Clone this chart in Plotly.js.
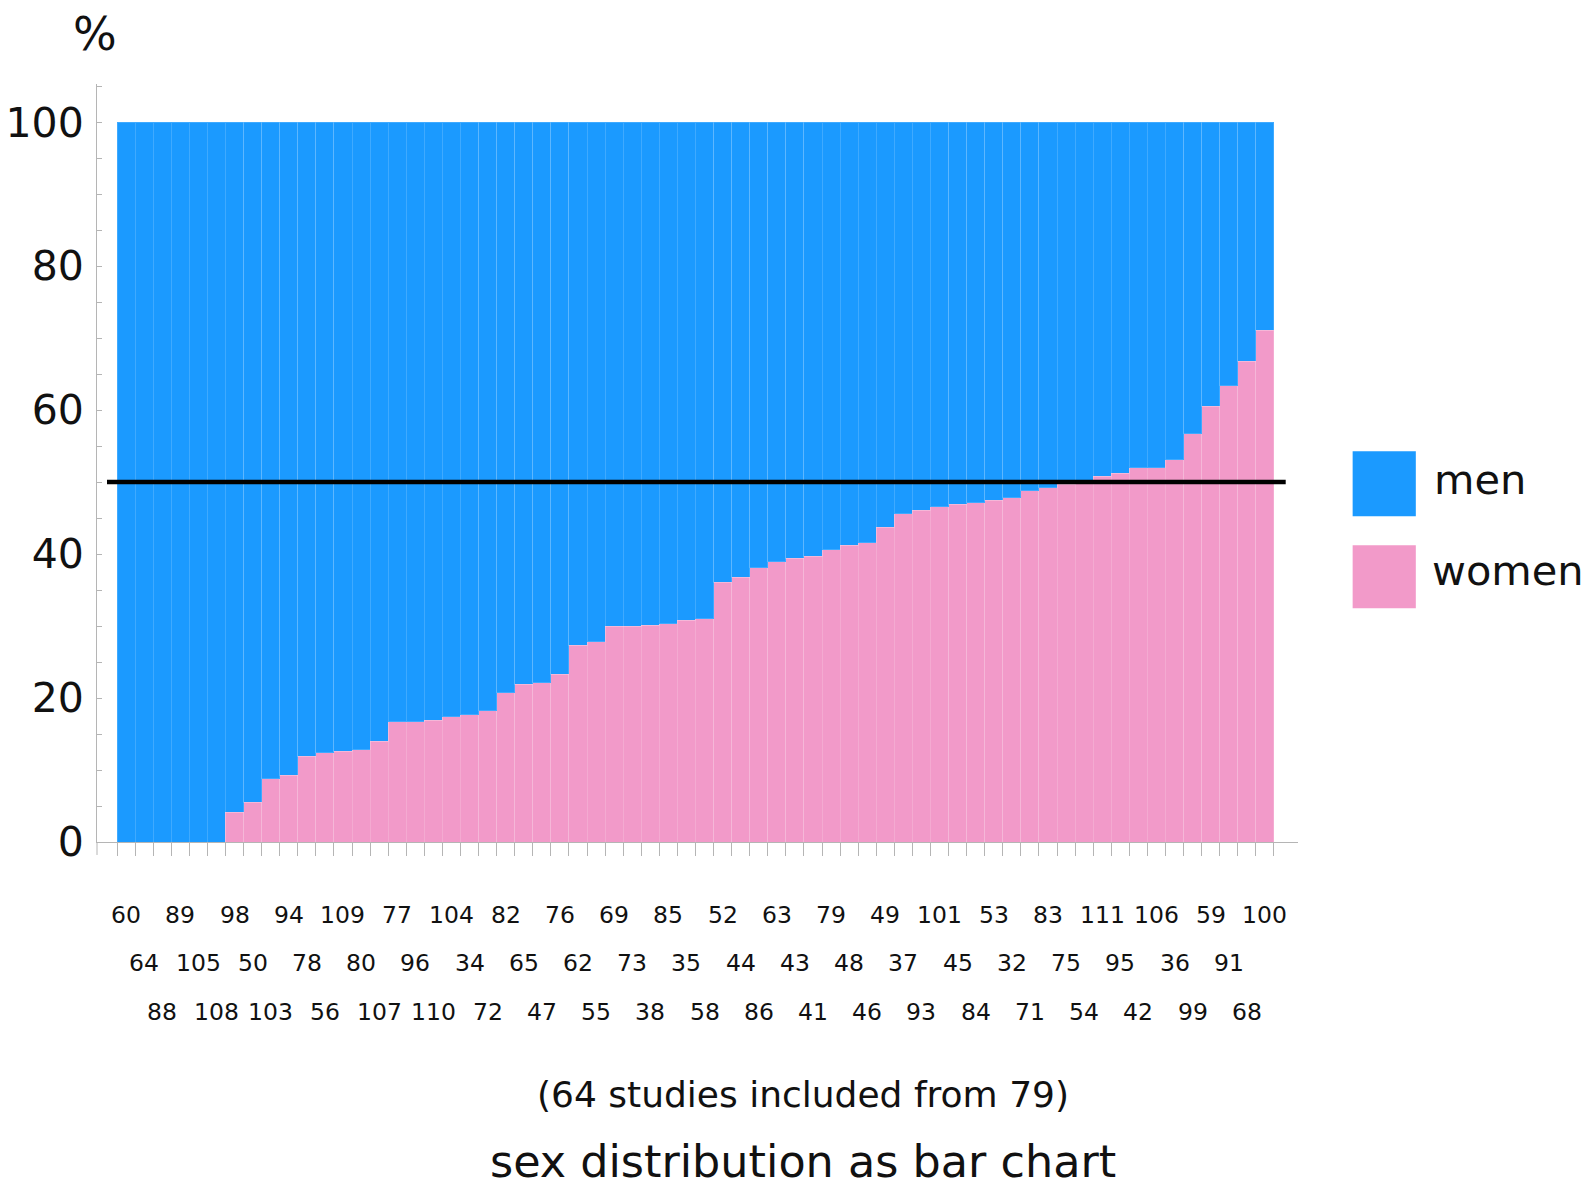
<!DOCTYPE html>
<html>
<head>
<meta charset="utf-8">
<script src="https://cdn.plot.ly/plotly-3.0.1.min.js"></script>
<style>html,body{margin:0;padding:0;background:#fff;}#chart{width:1595px;height:1186px;}</style>
</head>
<body>
<div id="chart"></div>
<script>
// Study identifiers, in bar order (left to right)
const studies = [60,64,88,89,105,108,98,50,103,94,78,56,109,80,107,77,96,110,104,34,72,82,65,47,76,62,55,69,73,38,85,35,58,52,44,86,63,43,41,79,48,46,49,37,93,101,45,84,53,32,71,83,75,54,111,95,42,106,36,99,59,91,68,100];
// Percentage of women per study
const women = [0,0,0,0,0,0,4.1,5.5,8.8,9.3,11.9,12.4,12.6,12.8,14.0,16.7,16.7,16.9,17.4,17.7,18.2,20.7,21.9,22.1,23.3,27.3,27.8,30.0,30.0,30.1,30.3,30.8,31.0,36.1,36.8,38.1,38.9,39.4,39.7,40.6,41.2,41.6,43.7,45.6,46.1,46.6,46.9,47.1,47.5,47.8,48.8,49.2,49.7,50.1,50.8,51.2,52.0,52.0,53.1,56.7,60.5,63.4,66.8,71.1];
// Percentage of men per study
const men = [100,100,100,100,100,100,95.9,94.5,91.2,90.7,88.1,87.6,87.4,87.2,86.0,83.3,83.3,83.1,82.6,82.3,81.8,79.3,78.1,77.9,76.7,72.7,72.2,70.0,70.0,69.9,69.7,69.2,69.0,63.9,63.2,61.9,61.1,60.6,60.3,59.4,58.8,58.4,56.3,54.4,53.9,53.4,53.1,52.9,52.5,52.2,51.2,50.8,50.3,49.9,49.2,48.8,48.0,48.0,46.9,43.3,39.5,36.6,33.2,28.9];
const yTickVals = [0,5,10,15,20,25,30,35,40,45,50,55,60,65,70,75,80,85,90,95,100,105];
const yTickText = ["0","","","","20","","","","40","","","","60","","","","80","","","","100",""];
const seriesNames = ["men","women"];
const refLine = 50;
const subtitle = "(64 studies included from 79)";
const titleText = "sex distribution as bar chart";

const FONT = "DejaVu Sans, Verdana, sans-serif";
const BLUE = "#1b9aff";
const PINK = "#f29ac9";

const idx = studies.map((_, i) => i);
const boundaries = [];
for (let i = 0; i <= studies.length; i++) boundaries.push(i - 0.5);

const traces = [
  {type: "bar", x: idx, y: women, name: seriesNames[1], marker: {color: PINK, line: {color: "rgba(255,255,255,0.16)", width: 1}}, hoverinfo: "skip"},
  {type: "bar", x: idx, y: men, name: seriesNames[0], marker: {color: BLUE, line: {color: "rgba(255,255,255,0.16)", width: 1}}, hoverinfo: "skip"}
];

const rowY = [-0.0957, -0.1602, -0.2247];
const annotations = studies.map((s, i) => ({
  x: i, xref: "x", y: rowY[i % 3], yref: "paper",
  text: String(s), showarrow: false, xanchor: "center", yanchor: "middle",
  font: {family: FONT, size: 23.5, color: "#111"}
}));
annotations.push({x: -0.002, xref: "paper", y: 1.0658, yref: "paper", text: "%", showarrow: false,
  xanchor: "center", yanchor: "middle", font: {family: FONT, size: 46, color: "#111"}});
annotations.push({x: 0.588, xref: "paper", y: -0.3336, yref: "paper", text: subtitle, showarrow: false,
  xanchor: "center", yanchor: "middle", font: {family: FONT, size: 36, color: "#111"}});
annotations.push({x: 1.1115, xref: "paper", y: 0.4786, yref: "paper", text: seriesNames[0], showarrow: false,
  xanchor: "left", yanchor: "middle", font: {family: FONT, size: 41.5, color: "#111"}});
annotations.push({x: 1.1098, xref: "paper", y: 0.3586, yref: "paper", text: seriesNames[1], showarrow: false,
  xanchor: "left", yanchor: "middle", font: {family: FONT, size: 41.5, color: "#111"}});

const shapes = [
  {type: "line", xref: "x", yref: "y", x0: -1.054, x1: 64.15, y0: refLine, y1: refLine, line: {color: "#000", width: 4.5}},
  {type: "rect", xref: "paper", yref: "paper", x0: 1.0455, x1: 1.0981, y0: 0.4298, y1: 0.5155, fillcolor: BLUE, line: {width: 0}},
  {type: "rect", xref: "paper", yref: "paper", x0: 1.0455, x1: 1.0981, y0: 0.3085, y1: 0.3916, fillcolor: PINK, line: {width: 0}},
  {type: "line", xref: "paper", yref: "paper", x0: 0, x1: 0, y0: -0.0171, y1: 0, line: {color: "#b5b5b5", width: 1}}
];

const layout = {
  width: 1595, height: 1186,
  margin: {l: 97, r: 297, t: 83.5, b: 344, pad: 0},
  paper_bgcolor: "#fff", plot_bgcolor: "#fff",
  barmode: "stack", bargap: 0,
  showlegend: false,
  title: {text: titleText, x: 0.5035, xref: "container", xanchor: "center", y: 0.0211, yref: "container", yanchor: "middle",
    font: {family: FONT, size: 44.5, color: "#111"}},
  xaxis: {range: [-1.607, 64.83], showgrid: false, zeroline: false, showline: true, linecolor: "#b5b5b5", linewidth: 1,
    tickmode: "array", tickvals: boundaries, ticktext: boundaries.map(() => ""), ticks: "outside", ticklen: 13,
    tickcolor: "#b5b5b5", tickwidth: 1, fixedrange: true},
  yaxis: {range: [0, 105.3], showgrid: false, zeroline: false, showline: true, linecolor: "#b5b5b5", linewidth: 1,
    tickmode: "array", tickvals: yTickVals, ticktext: yTickText, ticks: "inside", ticklen: 5, tickcolor: "#b5b5b5",
    tickwidth: 1, ticklabelstandoff: 4, tickfont: {family: FONT, size: 41, color: "#111"}, fixedrange: true},
  annotations: annotations,
  shapes: shapes
};

Plotly.newPlot("chart", traces, layout, {displayModeBar: false, staticPlot: true});
</script>
</body>
</html>
